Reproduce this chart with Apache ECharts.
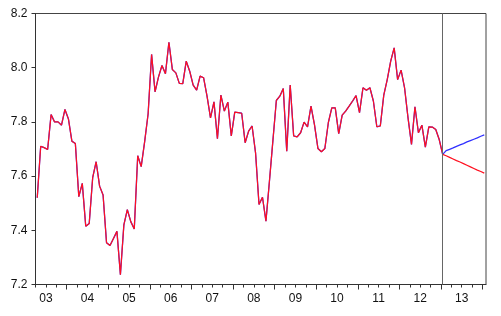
<!DOCTYPE html>
<html>
<head>
<meta charset="utf-8">
<script src="https://cdn.jsdelivr.net/npm/echarts@6/dist/echarts.min.js"></script>
<style>
html,body{margin:0;padding:0;background:#fff;}
#chart{width:501px;height:316px;}
</style>
</head>
<body>
<div id="chart"></div>
<script>
// Monthly series starting 2003M04 (month index 3, where 0 = 2003M01)
var histStart = 3;
var histValues = [
  7.52, 7.71, 7.705, 7.698, 7.827, 7.800, 7.800, 7.788, 7.846,          // 2003 Apr-Dec
  7.811, 7.729, 7.720, 7.524, 7.573, 7.415, 7.425, 7.594, 7.653, 7.563, 7.530, 7.354, // 2004
  7.344, 7.37, 7.396, 7.236, 7.42, 7.476, 7.432, 7.405, 7.675, 7.635, 7.727, 7.830,   // 2005
  8.049, 7.911, 7.966, 8.008, 7.978, 8.094, 7.993, 7.981, 7.942, 7.941, 8.024, 7.987, // 2006
  7.936, 7.917, 7.969, 7.963, 7.895, 7.815, 7.874, 7.738, 7.899, 7.840, 7.873, 7.748, // 2007
  7.836, 7.834, 7.832, 7.723, 7.766, 7.785, 7.686, 7.495, 7.522, 7.434, 7.58, 7.73,   // 2008
  7.879, 7.895, 7.923, 7.692, 7.936, 7.748, 7.745, 7.760, 7.799, 7.782, 7.858, 7.790, // 2009
  7.702, 7.690, 7.702, 7.797, 7.852, 7.852, 7.757, 7.825, 7.840, 7.858, 7.877, 7.897, // 2010
  7.834, 7.926, 7.917, 7.926, 7.877, 7.782, 7.785, 7.899, 7.956, 8.024, 8.073, 7.956, // 2011
  7.991, 7.926, 7.815, 7.717, 7.856, 7.760, 7.788, 7.707, 7.782, 7.781, 7.772, 7.735, // 2012
  7.680                                                                               // 2013 Jan
];
var forecastStart = 121;
var blueForecast = [7.694, 7.699, 7.704, 7.710, 7.715, 7.720, 7.726, 7.731, 7.736, 7.741, 7.747, 7.752];
var redForecast  = [7.675, 7.669, 7.663, 7.657, 7.652, 7.646, 7.640, 7.634, 7.628, 7.622, 7.617, 7.611];
var yearLabels = ['03','04','05','06','07','08','09','10','11','12','13'];
var yTicks = [7.2, 7.4, 7.6, 7.8, 8.0, 8.2];
var forecastMarker = 120.5;

function pts(start, vals) {
  return vals.map(function (v, i) { return [start + i + 0.5, v]; });
}
var hist = pts(histStart, histValues);
var blueData = hist.concat(pts(forecastStart, blueForecast));
var redData = hist.concat(pts(forecastStart, redForecast));

var labelPos = yearLabels.map(function (_, i) { return 6 + 12 * i; });
var majorTicks = [];
for (var m = 12; m <= 132; m += 12) majorTicks.push(m);
var minorTicks = [];
for (var q = 3; q <= 132; q += 3) minorTicks.push(q);

var font = 'Liberation Sans, Arial, sans-serif';
var chart = echarts.init(document.getElementById('chart'), null, {renderer: 'canvas'});
chart.setOption({
  animation: false,
  backgroundColor: '#fff',
  grid: {left: 35.5, right: 15, top: 13.5, bottom: 31.5, show: true, borderColor: '#444', borderWidth: 1, containLabel: false},
  xAxis: [{
    type: 'value', min: 3, max: 133, position: 'bottom',
    axisLine: {show: true, onZero: false, lineStyle: {color: '#333', width: 1}},
    axisTick: {show: true, inside: false, length: 3, customValues: minorTicks, lineStyle: {color: '#333'}},
    axisLabel: {
      show: true, customValues: labelPos, margin: 8, fontSize: 12, color: '#111', fontFamily: font,
      formatter: function (v) { var i = Math.round((v - 6) / 12); return yearLabels[i] || ''; }
    },
    splitLine: {show: false}
  }, {
    type: 'value', min: 3, max: 133, position: 'bottom', gridIndex: 0,
    axisLine: {show: false, onZero: false},
    axisTick: {show: true, inside: false, length: 5, customValues: majorTicks, lineStyle: {color: '#333'}},
    axisLabel: {show: false},
    splitLine: {show: false}
  }],
  yAxis: {
    type: 'value', min: 7.2, max: 8.2, interval: 0.2,
    axisLine: {show: true, lineStyle: {color: '#333', width: 1}},
    axisTick: {show: true, inside: false, length: 4, lineStyle: {color: '#333'}},
    axisLabel: {margin: 8, fontSize: 12, color: '#111', fontFamily: font,
      formatter: function (v) { return v.toFixed(1); }},
    splitLine: {show: false}
  },
  series: [{
    type: 'line', data: blueData, xAxisIndex: 0, showSymbol: false, symbol: 'none',
    lineStyle: {color: '#3030ff', width: 1.3}, z: 2,
    markLine: {
      silent: true, symbol: 'none', label: {show: false},
      lineStyle: {color: '#666', width: 1, type: 'solid'},
      data: [{xAxis: forecastMarker}]
    }
  }, {
    type: 'line', data: redData, xAxisIndex: 0, showSymbol: false, symbol: 'none',
    lineStyle: {color: '#ff1020', width: 1.2}, z: 3
  }]
});
</script>
</body>
</html>
